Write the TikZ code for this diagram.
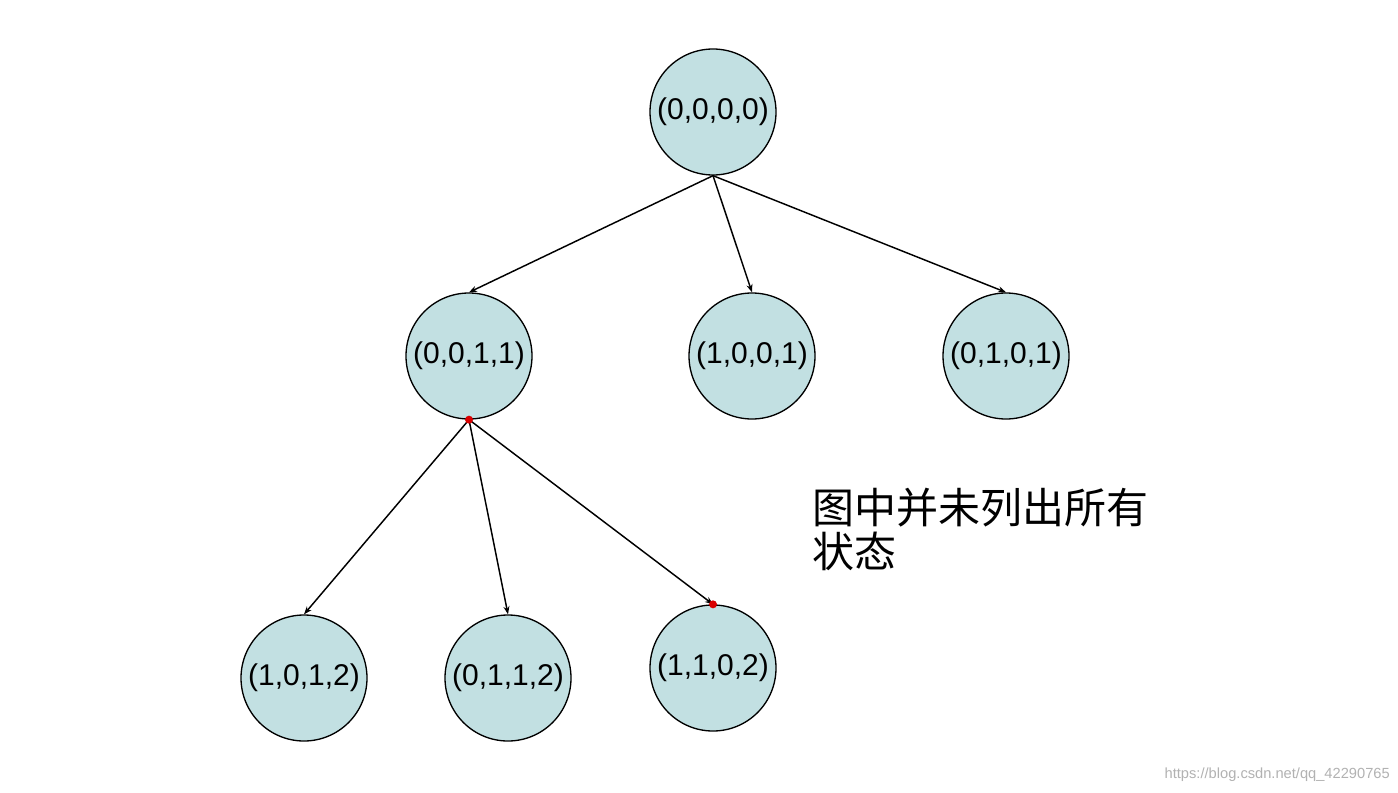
\documentclass[tikz,border=0pt]{standalone}
\usepackage{fontspec}
\setmainfont{Liberation Sans}
\newfontfamily\cjk{Noto Sans CJK SC}
\usetikzlibrary{arrows.meta}
\definecolor{nodefill}{HTML}{C2E0E2}
\tikzset{
  st/.style={circle,draw=black,fill=nodefill,line width=1pt,minimum size=94.5pt,inner sep=0pt,font=\fontsize{22.5}{24}\selectfont},
  ar/.style={-{Stealth[length=6pt,width=4.5pt]},line width=1.1pt},
  dot/.style={circle,fill=red!85!black,inner sep=0pt,minimum size=6pt}
}
\begin{document}
\begin{tikzpicture}[x=0.75pt,y=-0.75pt]
\useasboundingbox[fill=white] (0,0) rectangle (1398,792);
\node[st] (r) at (713,112) {(0,0,0,0)};
\node[st] (a) at (469,356) {(0,0,1,1)};
\node[st] (b) at (752,356) {(1,0,0,1)};
\node[st] (c) at (1006,356) {(0,1,0,1)};
\node[st] (d) at (304,678) {(1,0,1,2)};
\node[st] (e) at (508,678) {(0,1,1,2)};
\node[st] (f) at (713,668) {(1,1,0,2)};
\draw[ar] (r.south) -- (a.north);
\draw[ar] (r.south) -- (b.north);
\draw[ar] (r.south) -- (c.north);
\draw[ar] (a.south) -- (d.north);
\draw[ar] (a.south) -- (e.north);
\draw[ar] (a.south) -- (f.north);
\node[dot] (p) at (a.south) {};
\node[dot] (q) at (f.north) {};
\node[anchor=north west,align=left,font=\cjk\fontsize{31.5}{33}\selectfont,inner sep=0pt] (t) at (812,488) {图中并未列出所有\\状态};
\node[anchor=south east,font=\fontsize{11}{12}\selectfont,text=black!30,inner sep=0pt] (w) at (1390,782) {https://blog.csdn.net/qq\_42290765};
\end{tikzpicture}
\end{document}
